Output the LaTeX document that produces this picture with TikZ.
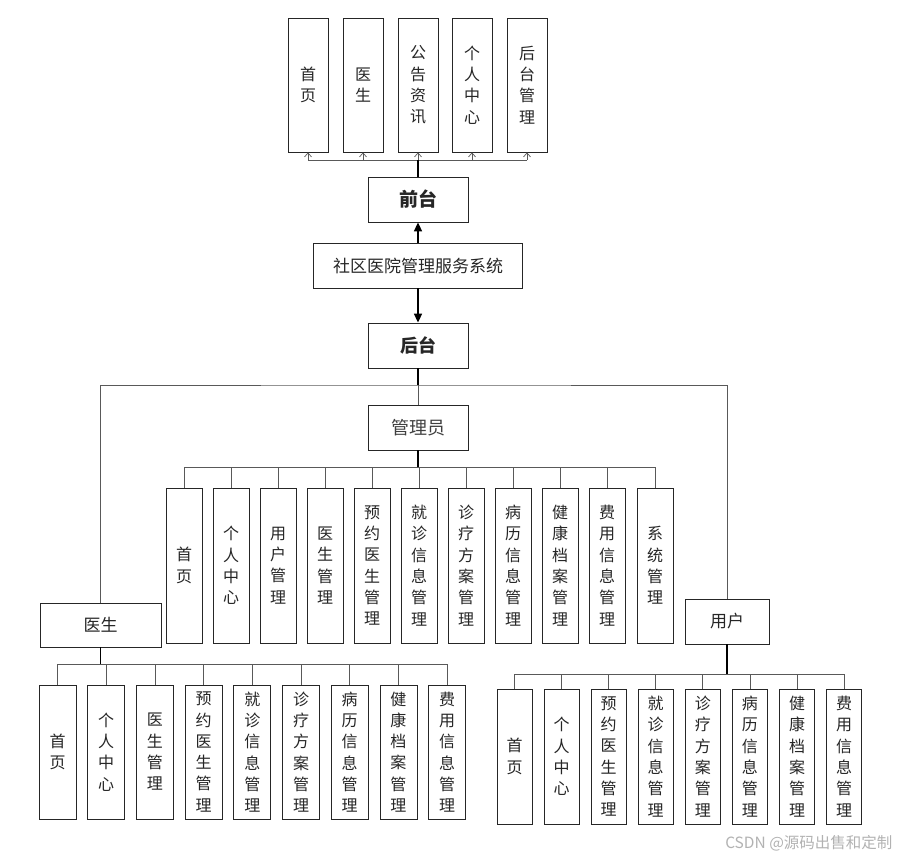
\documentclass[tikz,border=0pt]{standalone}
\usepackage{fontspec}
\setmainfont{Noto Sans CJK SC}
\usetikzlibrary{arrows.meta}
\begin{document}
\begin{tikzpicture}[x=1pt,y=-1pt,
  box/.style={draw=black!85, line width=0.8pt, fill=white, inner sep=0pt, align=center, text=black!85, font=\fontsize{16}{21.3}\selectfont},
  conn/.style={draw=black!65, line width=0.8pt},
  mainline/.style={draw=black, line width=1.6pt},
  mainarrow/.style={draw=black, line width=1.6pt, -{Triangle[length=9pt,width=8pt]}},
  openarrow/.style={draw=black!65, line width=0.7pt, -{Straight Barb[length=4pt,width=7pt]}}
]
\useasboundingbox (0,0) rectangle (899,856);
% top level
\node[box, minimum width=100pt, minimum height=45pt, font=\fontsize{19}{22}\selectfont\bfseries] (qt) at (418,199.5) {前台};
\node[box, minimum width=209pt, minimum height=45pt, font=\fontsize{17}{20}\selectfont] (sys) at (418,265.5) {社区医院管理服务系统};
\node[box, minimum width=100pt, minimum height=45pt, font=\fontsize{18}{22}\selectfont\bfseries] (ht) at (418,345.5) {后台};
\draw[mainarrow] (sys.north) -- (qt.south);
\draw[mainarrow] (sys.south) -- (ht.north);
% front modules
\foreach \i/\x/\t in {1/308/{首\\页},2/363/{医\\生},3/418/{公\\告\\资\\讯},4/472/{个\\人\\中\\心},5/527/{后\\台\\管\\理}}{
  \node[box, minimum width=40pt, minimum height=134pt] (t\i) at (\x,85) {\t};
  \coordinate (tb\i) at (\x,160);
  \draw[openarrow] (tb\i) -- (t\i.south);
}
\coordinate (tbc) at (418,160);
\draw[conn] (tb1) -- (tb5);
\draw[mainline] (qt.north) -- (tbc);
% roles
\node[box, minimum width=100pt, minimum height=45pt, font=\fontsize{18}{20}\selectfont, text=black!75] (adm) at (418,427.5) {管理员};
\node[box, minimum width=121pt, minimum height=44pt, font=\fontsize{17}{20}\selectfont] (doc) at (100.5,625) {医生};
\node[box, minimum width=84pt, minimum height=45pt, font=\fontsize{17}{20}\selectfont] (usr) at (727,621.5) {用户};
\coordinate (hb) at (418,385);
\draw[mainline] (ht.south) -- (hb);
\draw[conn] (hb) -- (adm.north);
\draw[conn] (doc.north) |- (hb) -| (usr.north);
% admin modules
\foreach \i/\x/\t in {1/184/{首\\页},2/231/{个\\人\\中\\心},3/278/{用\\户\\管\\理},4/325/{医\\生\\管\\理},5/372/{预\\约\\医\\生\\管\\理},6/419/{就\\诊\\信\\息\\管\\理},7/466/{诊\\疗\\方\\案\\管\\理},8/513/{病\\历\\信\\息\\管\\理},9/560/{健\\康\\档\\案\\管\\理},10/607/{费\\用\\信\\息\\管\\理},11/655/{系\\统\\管\\理}}{
  \node[box, minimum width=36pt, minimum height=155pt] (a\i) at (\x,565.5) {\t};
  \coordinate (ab\i) at (\x,467);
  \draw[conn] (ab\i) -- (a\i.north);
}
\coordinate (abc) at (418,467);
\draw[conn] (ab1) -- (ab11);
\draw[mainline] (adm.south) -- (abc);
% doctor modules
\foreach \i/\x/\t in {1/57.5/{首\\页},2/106.2/{个\\人\\中\\心},3/154.9/{医\\生\\管\\理},4/203.6/{预\\约\\医\\生\\管\\理},5/252.3/{就\\诊\\信\\息\\管\\理},6/301/{诊\\疗\\方\\案\\管\\理},7/349.7/{病\\历\\信\\息\\管\\理},8/398.4/{健\\康\\档\\案\\管\\理},9/447/{费\\用\\信\\息\\管\\理}}{
  \node[box, minimum width=37pt, minimum height=134pt] (d\i) at (\x,752) {\t};
  \coordinate (db\i) at (\x,664);
  \draw[conn] (db\i) -- (d\i.north);
}
\coordinate (dbc) at (100.5,664);
\draw[conn] (db1) -- (db9);
\draw[mainline] (doc.south) -- (dbc);
% user modules
\foreach \i/\x/\t in {1/514.5/{首\\页},2/561.6/{个\\人\\中\\心},3/608.6/{预\\约\\医\\生\\管\\理},4/655.7/{就\\诊\\信\\息\\管\\理},5/702.8/{诊\\疗\\方\\案\\管\\理},6/749.9/{病\\历\\信\\息\\管\\理},7/797/{健\\康\\档\\案\\管\\理},8/844/{费\\用\\信\\息\\管\\理}}{
  \node[box, minimum width=35pt, minimum height=135pt] (u\i) at (\x,756.5) {\t};
  \coordinate (ub\i) at (\x,674);
  \draw[conn] (ub\i) -- (u\i.north);
}
\coordinate (ubc) at (727,674);
\draw[conn] (ub1) -- (ub8);
\draw[mainline] (usr.south) -- (ubc);
% watermark
\node[anchor=east, text=black!30, font=\fontsize{15.5}{18}\selectfont] (wm) at (896,843) {CSDN @源码出售和定制};
\end{tikzpicture}
\end{document}
